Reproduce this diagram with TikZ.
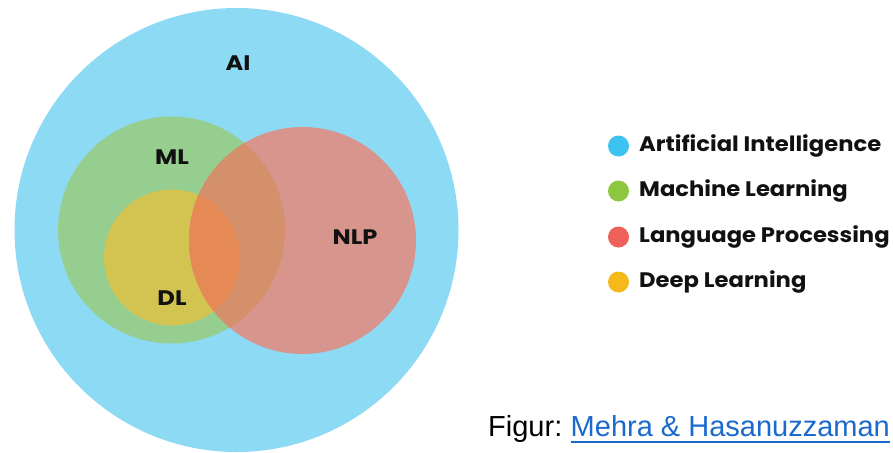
\documentclass[tikz,border=0pt]{standalone}
\usepackage{fontspec}
\usepackage{graphicx}
\newfontfamily\lblfont{Poppins}
\newfontfamily\capfont{Liberation Sans}
\definecolor{aiblue}{HTML}{8DDAF4}
\definecolor{mlgreen}{HTML}{96CE8F}
\definecolor{dlyellow}{HTML}{D3C452}
\definecolor{nlpred}{HTML}{D8958E}
\definecolor{nlpml}{HTML}{D3906B}
\definecolor{nlpdl}{HTML}{E68A55}
\definecolor{dotblue}{HTML}{3DC3F0}
\definecolor{dotgreen}{HTML}{8DC63F}
\definecolor{dotred}{HTML}{F0605A}
\definecolor{dotyellow}{HTML}{F5BA1A}
\definecolor{txt}{HTML}{111111}
\definecolor{linkblue}{HTML}{1A6ACC}
\newcommand{\lblx}[1]{\scalebox{1.15}[1]{#1}}
\newcommand{\legx}[1]{\scalebox{1.08}[1]{#1}}
\tikzset{
  setlabel/.style={font=\lblfont\bfseries\fontsize{21}{24}\selectfont, text=txt, inner sep=0pt},
  legtext/.style={font=\lblfont\bfseries\fontsize{21}{24}\selectfont, text=txt, anchor=west, inner sep=0pt},
  legdot/.style={circle, minimum size=21pt, inner sep=0pt},
  captext/.style={font=\capfont\fontsize{29}{34}\selectfont, inner sep=0pt, anchor=base west}
}
\begin{document}
\begin{tikzpicture}[x=1pt,y=-1pt]
\useasboundingbox (0,0) rectangle (893,452);
% circle centres
\coordinate (cAI) at (236.5,230);
\coordinate (cML) at (171.5,230);
\coordinate (cDL) at (172,257.5);
\coordinate (cNLP) at (302.5,240.5);
% regions
\fill[aiblue] (cAI) circle[radius=222pt];
\fill[mlgreen] (cML) circle[radius=113.5pt];
\fill[dlyellow] (cDL) circle[radius=68pt];
\fill[nlpred] (cNLP) circle[radius=113.5pt];
\begin{scope}
  \clip (cNLP) circle[radius=113.5pt];
  \fill[nlpml] (cML) circle[radius=113.5pt];
  \fill[nlpdl] (cDL) circle[radius=68pt];
\end{scope}
% labels
\node[setlabel] (lAI) at (238,63.5) {\lblx{AI}};
\node[setlabel] (lML) at (172,157) {\lblx{ML}};
\node[setlabel] (lDL) at (172,298) {\lblx{DL}};
\node[setlabel] (lNLP) at (355,237) {\lblx{NLP}};
% legend
\node[legdot, fill=dotblue] (d1) at (618.5,146) {};
\node[legdot, fill=dotgreen] (d2) at (618.5,191) {};
\node[legdot, fill=dotred] (d3) at (618.5,237) {};
\node[legdot, fill=dotyellow] (d4) at (618.5,282) {};
\node[legtext] (t1) at (639,146) {\legx{Artificial Intelligence}};
\node[legtext] (t2) at (639,191) {\legx{Machine Learning}};
\node[legtext] (t3) at (639,237) {\legx{Language Processing}};
\node[legtext] (t4) at (639,282) {\legx{Deep Learning}};
% caption
\node[captext, text=black] (fig) at (488,436) {Figur:};
\node[captext, text=linkblue] (link) at ([xshift=8pt]fig.base east) {Mehra \& Hasanuzzaman};
\coordinate (ulA) at ([yshift=-6pt]link.base west);
\coordinate (ulB) at ([yshift=-6pt]link.base east);
\draw[linkblue, line width=1.8pt] (ulA) -- (ulB);
\end{tikzpicture}
\end{document}
